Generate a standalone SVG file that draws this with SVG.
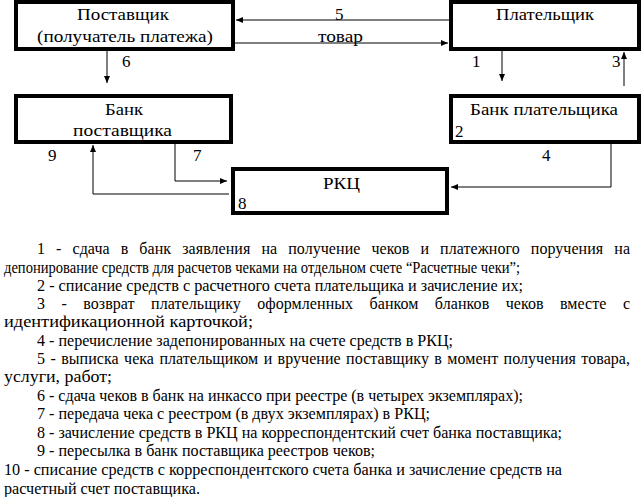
<svg xmlns="http://www.w3.org/2000/svg" width="642" height="497" viewBox="0 0 642 497" font-family="Liberation Serif, Times New Roman, serif">
<style>
.box{fill:#fff;stroke:#000;stroke-width:4}
.t{font-size:17px;fill:#000}
.l{font-size:16px;fill:#000}
.c{fill:none;stroke:#000;stroke-width:1}
</style>
<defs>
<marker id="ah" markerUnits="userSpaceOnUse" markerWidth="7" markerHeight="6" refX="7" refY="3" orient="auto">
<path d="M0,0 L7,3 L0,6 z" fill="#000"/>
</marker>
</defs>
<rect width="642" height="497" fill="#fff"/>
<g id="connectors">
<path class="c" d="M449,20 H236" marker-end="url(#ah)"/>
<path class="c" d="M235,43 H448" marker-end="url(#ah)"/>
<path class="c" d="M107,51 V83" marker-end="url(#ah)"/>
<path class="c" d="M502,51 V81" marker-end="url(#ah)"/>
<path class="c" d="M624,86 V52" marker-end="url(#ah)"/>
<path class="c" d="M229,194 H93 V145" marker-end="url(#ah)"/>
<path class="c" d="M175,144 V181 H227" marker-end="url(#ah)"/>
<path class="c" d="M611,144 V187 H451" marker-end="url(#ah)"/>
<text class="t" x="335" y="20">5</text>
<text class="t" x="318" y="42" textLength="45" lengthAdjust="spacingAndGlyphs">товар</text>
<text class="t" x="122" y="67">6</text>
<text class="t" x="472" y="67">1</text>
<text class="t" x="612" y="67">3</text>
<text class="t" x="48" y="161">9</text>
<text class="t" x="193" y="161">7</text>
<text class="t" x="542" y="161">4</text>
</g>
<g id="supplier">
<rect class="box" x="16" y="2" width="217" height="47"/>
<text class="t" x="77" y="20" textLength="92" lengthAdjust="spacingAndGlyphs">Поставщик</text>
<text class="t" x="37" y="42" textLength="176" lengthAdjust="spacingAndGlyphs">(получатель платежа)</text>
</g>
<g id="payer">
<rect class="box" x="451" y="2" width="188" height="47"/>
<text class="t" x="496" y="20" textLength="98" lengthAdjust="spacingAndGlyphs">Плательщик</text>
</g>
<g id="supplier-bank">
<rect class="box" x="16" y="96" width="215" height="46"/>
<text class="t" x="105" y="115" textLength="38" lengthAdjust="spacingAndGlyphs">Банк</text>
<text class="t" x="73" y="136" textLength="99" lengthAdjust="spacingAndGlyphs">поставщика</text>
</g>
<g id="payer-bank">
<rect class="box" x="451" y="96" width="188" height="46"/>
<text class="t" x="470" y="115" textLength="148" lengthAdjust="spacingAndGlyphs">Банк  плательщика</text>
<text class="t" x="455" y="137">2</text>
</g>
<g id="rkc">
<rect class="box" x="233" y="169" width="214" height="44"/>
<text class="t" x="323" y="189" textLength="37" lengthAdjust="spacingAndGlyphs">РКЦ</text>
<text class="t" x="238" y="209">8</text>
</g>
<g id="legend">
<text class="l" x="37" y="254" word-spacing="7" textLength="593" lengthAdjust="spacing">1 - сдача в банк заявления на получение чеков и платежного поручения на</text>
<text class="l" x="4" y="273" textLength="516" lengthAdjust="spacingAndGlyphs">депонирование средств для расчетов чеками на отдельном счете “Расчетные чеки”;</text>
<text class="l" x="37" y="291" textLength="486" lengthAdjust="spacingAndGlyphs">2 - списание средств с расчетного счета плательщика и зачисление их;</text>
<text class="l" x="37" y="309" word-spacing="12.3" textLength="593" lengthAdjust="spacing">3 - возврат плательщику оформленных банком бланков чеков вместе с</text>
<text class="l" x="4" y="327" textLength="249" lengthAdjust="spacingAndGlyphs">идентификационной карточкой;</text>
<text class="l" x="37" y="346" textLength="416" lengthAdjust="spacingAndGlyphs">4 - перечисление задепонированных на счете средств в РКЦ;</text>
<text class="l" x="37" y="364" word-spacing="1.3" textLength="593" lengthAdjust="spacing">5 - выписка чека плательщиком и вручение поставщику в момент получения товара,</text>
<text class="l" x="4" y="382" textLength="108" lengthAdjust="spacingAndGlyphs">услуги, работ;</text>
<text class="l" x="37" y="401" textLength="486" lengthAdjust="spacingAndGlyphs">6 - сдача чеков в банк на инкассо при реестре (в четырех экземплярах);</text>
<text class="l" x="37" y="419" textLength="393" lengthAdjust="spacingAndGlyphs">7 - передача чека с реестром (в двух экземплярах) в РКЦ;</text>
<text class="l" x="37" y="438" textLength="525" lengthAdjust="spacingAndGlyphs">8 - зачисление средств в РКЦ на корреспондентский счет банка поставщика;</text>
<text class="l" x="37" y="456" textLength="338" lengthAdjust="spacingAndGlyphs">9 - пересылка в банк поставщика реестров чеков;</text>
<text class="l" x="4" y="475" textLength="558" lengthAdjust="spacingAndGlyphs">10 - списание средств с корреспондентского счета банка и зачисление средств на</text>
<text class="l" x="4" y="494" textLength="196" lengthAdjust="spacingAndGlyphs">расчетный счет поставщика.</text>
</g>
</svg>
